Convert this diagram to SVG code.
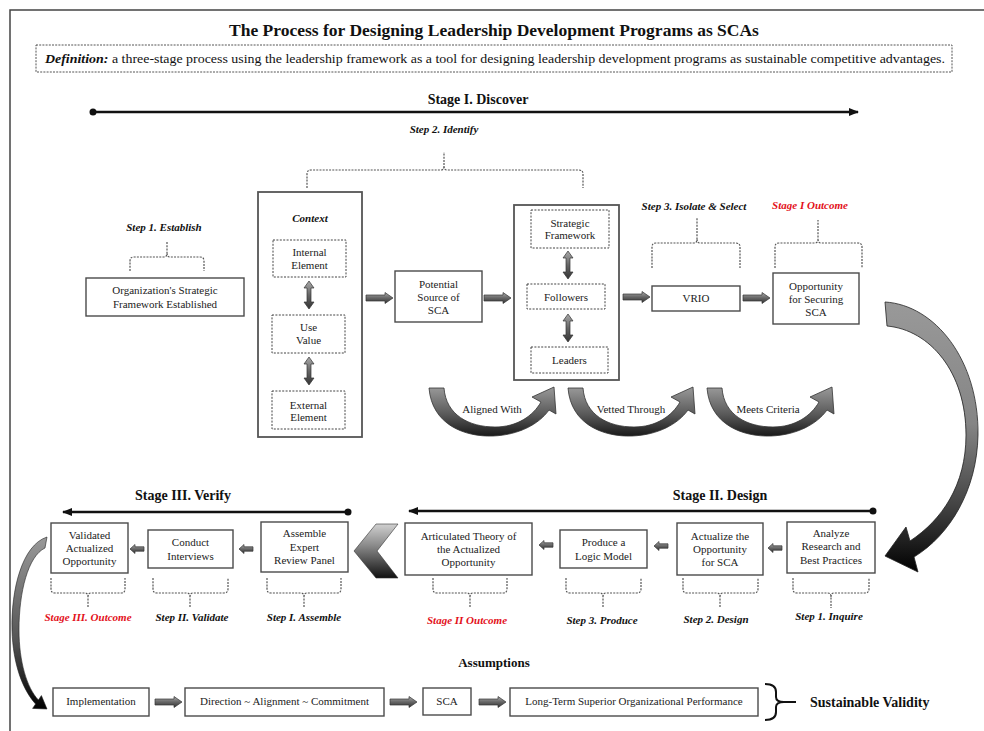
<svg xmlns="http://www.w3.org/2000/svg" xmlns:xlink="http://www.w3.org/1999/xlink" width="984" height="731" viewBox="0 0 984 731">
<style>
.box{fill:#fff;stroke:#4a4a4a;stroke-width:1.4}
.cbox{fill:#fff;stroke:#555;stroke-width:1.8}
.dbox{fill:#fff;stroke:#444;stroke-width:1;stroke-dasharray:2 1.4}
.brace{fill:none;stroke:#555;stroke-width:1.2;stroke-dasharray:2 1.2}
.t{font-family:"Liberation Serif","Times New Roman",serif;font-size:11px;fill:#222;text-anchor:middle}
.lbl{font-family:"Liberation Serif","Times New Roman",serif;font-style:italic;font-weight:bold;font-size:11px;fill:#111;text-anchor:middle}
.red{fill:#e3101a}
.hd{font-family:"Liberation Serif","Times New Roman",serif;font-weight:bold;font-size:14px;fill:#111;text-anchor:middle}
.stage{stroke:#111;stroke-width:2.5;fill:none}
.rarr{fill:url(#gBlock);stroke:#333;stroke-width:0.7}
</style>
<defs>
<linearGradient id="gBlock" x1="0" y1="0" x2="0" y2="1">
<stop offset="0" stop-color="#aaa"/><stop offset="0.5" stop-color="#666"/><stop offset="1" stop-color="#333"/>
</linearGradient>
<linearGradient id="gU" x1="0" y1="0" x2="0" y2="1">
<stop offset="0" stop-color="#9a9a9a"/><stop offset="0.55" stop-color="#5a5a5a"/><stop offset="1" stop-color="#1a1a1a"/>
</linearGradient>
<linearGradient id="gBig" x1="0" y1="0" x2="0" y2="1">
<stop offset="0" stop-color="#999"/><stop offset="0.45" stop-color="#858585"/><stop offset="0.75" stop-color="#444"/><stop offset="1" stop-color="#000"/>
</linearGradient>
<linearGradient id="gLeft" x1="0" y1="0" x2="0" y2="1">
<stop offset="0" stop-color="#999"/><stop offset="0.6" stop-color="#555"/><stop offset="1" stop-color="#000"/>
</linearGradient>
<linearGradient id="gChev" x1="0" y1="0" x2="0" y2="1">
<stop offset="0" stop-color="#d0d0d0"/><stop offset="0.4" stop-color="#8a8a8a"/><stop offset="1" stop-color="#111"/>
</linearGradient>
<marker id="ah" markerUnits="userSpaceOnUse" markerWidth="10" markerHeight="8" refX="9" refY="4" orient="auto">
<path d="M0,0 L10,4 L0,8 Z" fill="#111"/>
</marker>
<path id="rA" class="rarr" d="M0,-3 H19 V-5.5 L27,0 L19,5.5 V3 H0 Z"/>
<path id="lA" class="rarr" d="M0,0 L5,-4.5 V-2.2 H14 V2.2 H5 V4.5 Z"/>
<path id="vA" class="rarr" d="M0,0 L5,7 H2 V21 H5 L0,28 L-5,21 H-2 V7 H-5 Z"/>
<path id="uA" fill="url(#gU)" stroke="#333" stroke-width="0.8" d="M0,0 C3,37 36,49 64,48 C90,47 110,36 120,22 L127,26 L125,-1 L103,9 L112,14 C104,28 88,39 66,39 C40,39 17,27 15,0 Z"/>
</defs>
<rect width="984" height="731" fill="#fff"/>
<path d="M10,731 V10 H984" fill="none" stroke="#444" stroke-width="1.5"/>

<g id="title">
<text x="494" y="36" class="hd" style="font-size:17.5px">The Process for Designing Leadership Development Programs as SCAs</text>
</g>
<g id="definition">
<rect x="36" y="45" width="916" height="27" fill="#fff" stroke="#555" stroke-width="1" stroke-dasharray="2 1.2"/>
<text x="45" y="63" textLength="900" lengthAdjust="spacingAndGlyphs" style="font-family:'Liberation Serif','Times New Roman',serif;font-size:13px;fill:#111"><tspan font-weight="bold" font-style="italic">Definition:</tspan> a three-stage process using the leadership framework as a tool for designing leadership development programs as sustainable competitive advantages.</text>
</g>

<g id="stages">
<text x="478" y="104" class="hd">Stage I. Discover</text>
<circle cx="93" cy="112" r="3.5" fill="#111"/>
<line x1="93" y1="112" x2="858" y2="112" class="stage" marker-end="url(#ah)"/>
<text x="720" y="500" class="hd">Stage II. Design</text>
<circle cx="873" cy="511" r="3.5" fill="#111"/>
<line x1="873" y1="511" x2="409" y2="511" class="stage" marker-end="url(#ah)"/>
<text x="183" y="500" class="hd">Stage III. Verify</text>
<circle cx="348" cy="512" r="3.5" fill="#111"/>
<line x1="348" y1="512" x2="63" y2="512" class="stage" marker-end="url(#ah)"/>
</g>

<g id="braces">
<path class="brace" d="M130,271 V261 Q130,257 134,257 H164 Q167,257 167,253 V242 M167,253 Q167,257 170,257 H200 Q204,257 204,261 V271"/>
<path class="brace" d="M307,188 V174 Q307,170 311,170 H441 Q444,170 444,166 V152 M444,166 Q444,170 447,170 H579 Q583,170 583,174 V188"/>
<path class="brace" d="M652,268 V247 Q652,243 656,243 H694 Q697,243 697,239 V218 M697,239 Q697,243 700,243 H736 Q740,243 740,247 V268"/>
<path class="brace" d="M775,268 V247 Q775,243 779,243 H815 Q818,243 818,239 V220 M818,239 Q818,243 821,243 H858 Q862,243 862,247 V268"/>
<path class="brace" d="M51,578 V589 Q51,593 55,593 H85 Q88,593 88,597 V608 M88,597 Q88,593 91,593 H121 Q125,593 125,589 V578"/>
<path class="brace" d="M153,578 V589 Q153,593 157,593 H187 Q190,593 190,597 V608 M190,597 Q190,593 193,593 H224 Q228,593 228,589 V578"/>
<path class="brace" d="M267,578 V589 Q267,593 271,593 H301 Q304,593 304,597 V608 M304,597 Q304,593 307,593 H337 Q341,593 341,589 V578"/>
<path class="brace" d="M433,578 V589 Q433,593 437,593 H467 Q470,593 470,597 V608 M470,597 Q470,593 473,593 H503 Q507,593 507,589 V578"/>
<path class="brace" d="M566,578 V589 Q566,593 570,593 H600 Q603,593 603,597 V608 M603,597 Q603,593 606,593 H637 Q641,593 641,589 V578"/>
<path class="brace" d="M683,578 V589 Q683,593 687,593 H717 Q720,593 720,597 V608 M720,597 Q720,593 723,593 H754 Q758,593 758,589 V578"/>
<path class="brace" d="M793,578 V589 Q793,593 797,593 H828 Q831,593 831,597 V608 M831,597 Q831,593 834,593 H865 Q869,593 869,589 V578"/>
</g>

<g id="labels">
<text x="164" y="231" class="lbl">Step 1. Establish</text>
<text x="444" y="133" class="lbl">Step 2. Identify</text>
<text x="694" y="210" class="lbl">Step 3. Isolate &amp; Select</text>
<text x="810" y="209" class="lbl red">Stage I Outcome</text>
<text x="88" y="621" class="lbl red">Stage III. Outcome</text>
<text x="192" y="621" class="lbl">Step II. Validate</text>
<text x="304" y="621" class="lbl">Step I. Assemble</text>
<text x="467" y="624" class="lbl red">Stage II Outcome</text>
<text x="602" y="624" class="lbl">Step 3. Produce</text>
<text x="716" y="623" class="lbl">Step 2. Design</text>
<text x="829" y="620" class="lbl">Step 1. Inquire</text>
</g>

<g id="n-org">
<rect class="box" x="86" y="278" width="158" height="38"/>
<text class="t" x="165" y="294">Organization's Strategic</text>
<text class="t" x="165" y="307.5">Framework Established</text>
</g>
<g id="n-context">
<rect class="cbox" x="258" y="192" width="104" height="245"/>
<text class="lbl" x="310" y="222">Context</text>
<rect class="dbox" x="273" y="240" width="73" height="37"/>
<text class="t" x="309.5" y="256">Internal</text>
<text class="t" x="309.5" y="268.5">Element</text>
<rect class="dbox" x="272" y="315" width="73" height="38"/>
<text class="t" x="308.5" y="331">Use</text>
<text class="t" x="308.5" y="344">Value</text>
<rect class="dbox" x="272" y="391" width="73" height="38"/>
<text class="t" x="308.5" y="408.5">External</text>
<text class="t" x="308.5" y="421">Element</text>
<use href="#vA" transform="translate(309,281)"/>
<use href="#vA" transform="translate(309,357)"/>
</g>
<g id="n-potential">
<rect class="box" x="395" y="271" width="87" height="51"/>
<text class="t" x="438.5" y="288">Potential</text>
<text class="t" x="438.5" y="300.5">Source of</text>
<text class="t" x="438.5" y="313.5">SCA</text>
</g>
<g id="n-framework">
<rect class="cbox" x="514" y="205" width="105" height="175"/>
<rect class="dbox" x="531" y="210" width="78" height="38"/>
<text class="t" x="570" y="226.5">Strategic</text>
<text class="t" x="570" y="238.5">Framework</text>
<rect class="dbox" x="527" y="284" width="78" height="25"/>
<text class="t" x="566" y="300.5">Followers</text>
<rect class="dbox" x="531" y="347" width="77" height="26"/>
<text class="t" x="569.5" y="363.5">Leaders</text>
<use href="#vA" transform="translate(568,251)"/>
<use href="#vA" transform="translate(568,314)"/>
</g>
<g id="n-vrio">
<rect class="box" x="652" y="286" width="88" height="25"/>
<text class="t" x="696" y="302">VRIO</text>
</g>
<g id="n-opportunity">
<rect class="box" x="773" y="273" width="86" height="51"/>
<text class="t" x="816" y="290">Opportunity</text>
<text class="t" x="816" y="302.5">for Securing</text>
<text class="t" x="816" y="315.5">SCA</text>
</g>

<g id="n-validated">
<rect class="box" x="51" y="523" width="77" height="50"/>
<text class="t" x="89.5" y="538.5">Validated</text>
<text class="t" x="89.5" y="552">Actualized</text>
<text class="t" x="89.5" y="565">Opportunity</text>
</g>
<g id="n-conduct">
<rect class="box" x="148" y="530" width="85" height="38"/>
<text class="t" x="190.5" y="546">Conduct</text>
<text class="t" x="190.5" y="559.5">Interviews</text>
</g>
<g id="n-assemble">
<rect class="box" x="261" y="522" width="87" height="50"/>
<text class="t" x="304.5" y="537">Assemble</text>
<text class="t" x="304.5" y="551">Expert</text>
<text class="t" x="304.5" y="564">Review Panel</text>
</g>
<g id="n-articulated">
<rect class="box" x="405" y="523" width="127" height="52"/>
<text class="t" x="468.5" y="540">Articulated Theory of</text>
<text class="t" x="468.5" y="553">the Actualized</text>
<text class="t" x="468.5" y="566">Opportunity</text>
</g>
<g id="n-produce">
<rect class="box" x="560" y="530" width="87" height="38"/>
<text class="t" x="603.5" y="546">Produce a</text>
<text class="t" x="603.5" y="559.5">Logic Model</text>
</g>
<g id="n-actualize">
<rect class="box" x="677" y="523" width="86" height="52"/>
<text class="t" x="720" y="540">Actualize the</text>
<text class="t" x="720" y="553">Opportunity</text>
<text class="t" x="720" y="566">for SCA</text>
</g>
<g id="n-analyze">
<rect class="box" x="787" y="522" width="88" height="51"/>
<text class="t" x="831" y="537">Analyze</text>
<text class="t" x="831" y="550">Research and</text>
<text class="t" x="831" y="563.5">Best Practices</text>
</g>

<g id="assumptions">
<text x="494" y="667" class="hd" style="font-size:13px">Assumptions</text>
<g id="n-implementation">
<rect class="box" x="53" y="688" width="96" height="28"/>
<text class="t" x="101" y="705">Implementation</text>
</g>
<g id="n-direction">
<rect class="box" x="185" y="688" width="199" height="28"/>
<text class="t" x="284.5" y="705">Direction ~ Alignment ~ Commitment</text>
</g>
<g id="n-sca">
<rect class="box" x="423" y="688" width="48" height="27"/>
<text class="t" x="447" y="705">SCA</text>
</g>
<g id="n-longterm">
<rect class="box" x="510" y="688" width="248" height="28"/>
<text class="t" x="634" y="705">Long-Term Superior Organizational Performance</text>
</g>
<path d="M765,684 Q776,684 776,692 V697 Q776,702 784,702 Q776,702 776,707 V712 Q776,720 765,720 M784,702 H796" fill="none" stroke="#111" stroke-width="2"/>
<text x="810" y="707" class="hd" style="text-anchor:start">Sustainable Validity</text>
</g>

<g id="connectors">
<use href="#rA" transform="translate(366,298)"/>
<use href="#rA" transform="translate(484,298)"/>
<use href="#rA" transform="translate(623,297)"/>
<use href="#rA" transform="translate(743,298)"/>
<use href="#lA" transform="translate(130,549)"/>
<use href="#lA" transform="translate(239,549)"/>
<use href="#lA" transform="translate(539,545)"/>
<use href="#lA" transform="translate(654,546)"/>
<use href="#lA" transform="translate(768,548)"/>
<use href="#rA" transform="translate(155,702)"/>
<use href="#rA" transform="translate(390,702)"/>
<use href="#rA" transform="translate(479,702)"/>
<use href="#uA" transform="translate(429,388)"/>
<use href="#uA" transform="translate(568,388)"/>
<use href="#uA" transform="translate(707,388)"/>
<text class="t" x="492" y="413">Aligned With</text>
<text class="t" x="631" y="413">Vetted Through</text>
<text class="t" x="768" y="413">Meets Criteria</text>
<path d="M885,302 C935,305 979,360 978,435 C977,490 950,535 914,557 L918,572 L885,556 L906,527 L910,541 C942,520 966,485 966,435 C966,372 930,330 887,326 Z" fill="url(#gBig)" stroke="#222" stroke-width="0.8"/>
<path d="M398,524 H376 L354,551 L376,578 H398 L377,551 Z" fill="url(#gChev)" stroke="#333" stroke-width="0.6"/>
<path d="M47,537 C22,545 11,590 12,630 C13,665 23,690 35.6,704 L32.6,708.4 L47,709 L41.4,695.6 L38.4,700 C27,688 19,662 19,630 C19,592 28,556 45,548 Z" fill="url(#gLeft)" stroke="#222" stroke-width="0.6"/>
</g>
</svg>
